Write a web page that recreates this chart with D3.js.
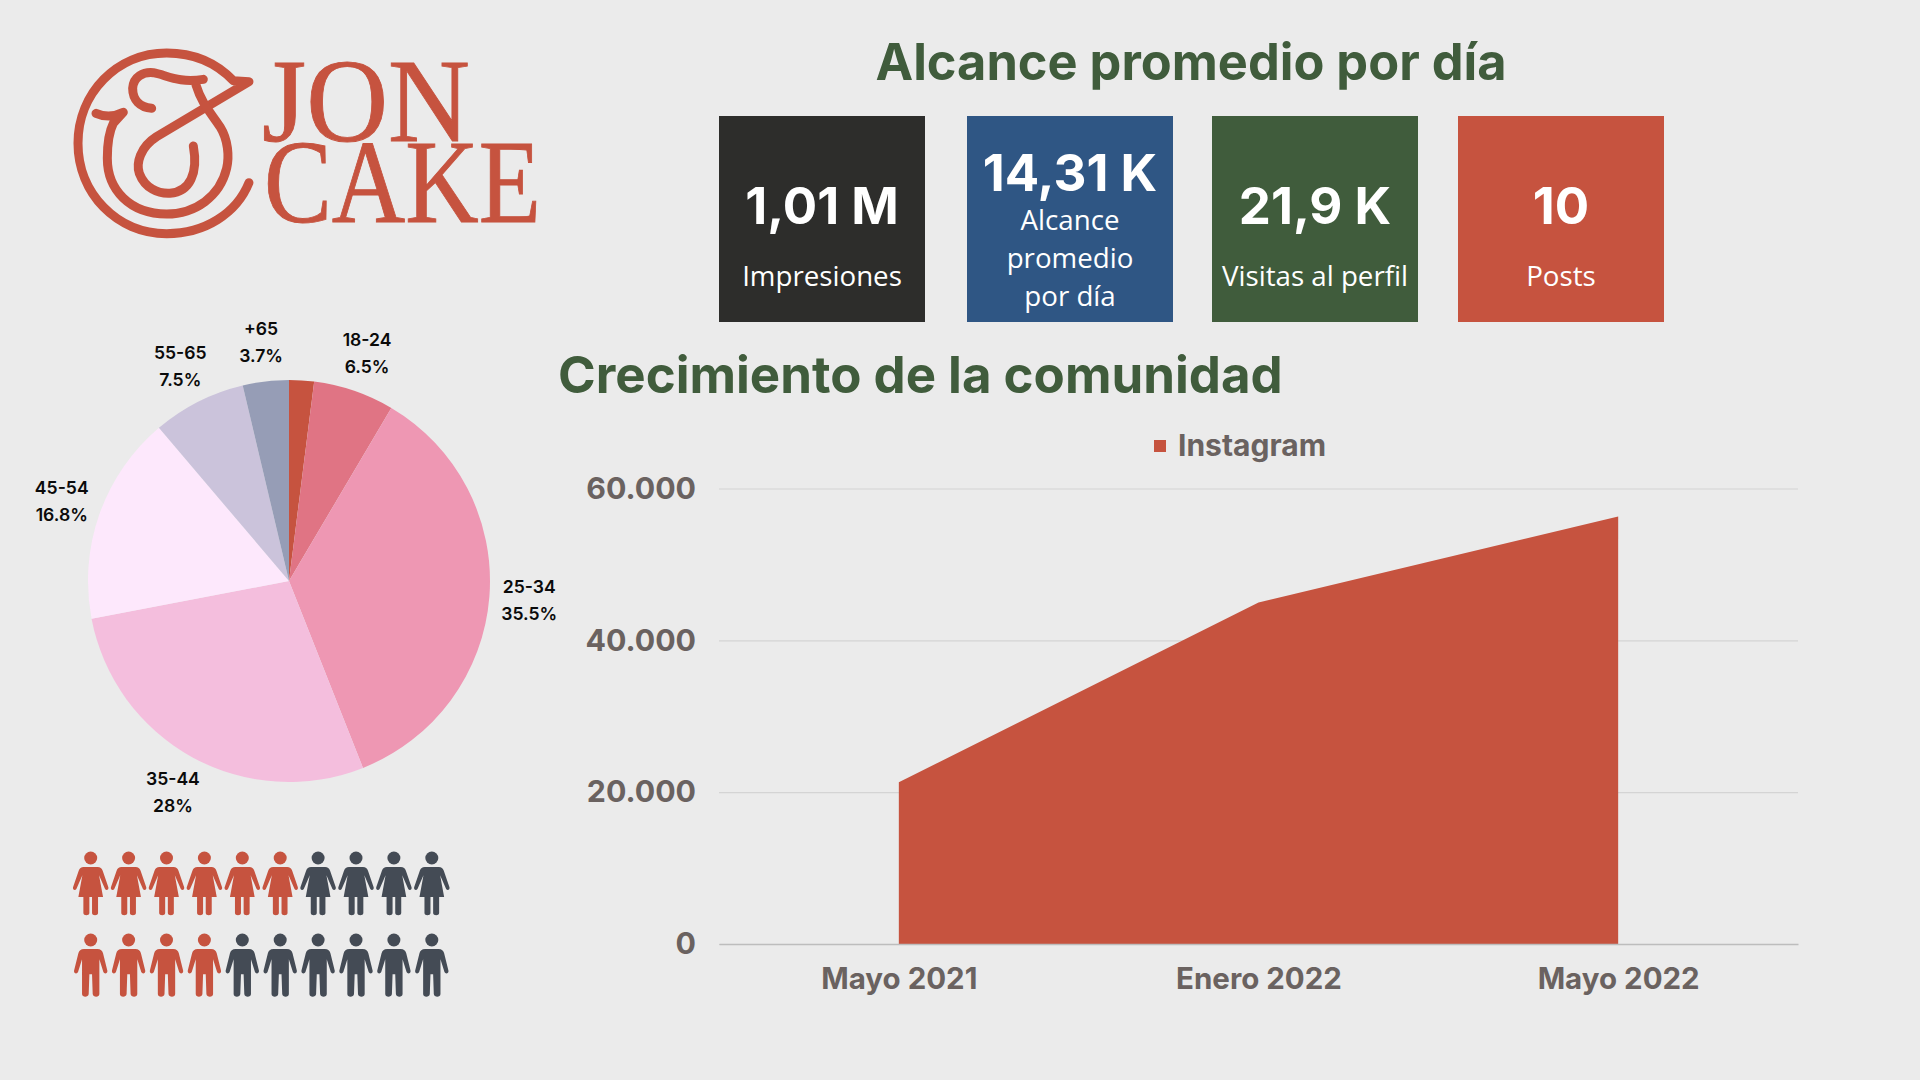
<!DOCTYPE html>
<html lang="es">
<head>
<meta charset="utf-8">
<title>Jon Cake</title>
<script src="https://cdn.jsdelivr.net/npm/d3@7"></script>
<style>
  html, body { margin: 0; padding: 0; background: #ebebeb; }
  svg { display: block; }
  .heading { font-family: Inter, sans-serif; font-weight: 700; fill: #405c3c; }
  .card-value { font-family: Inter, sans-serif; font-weight: 700; fill: #fff; text-anchor: middle; }
  .card-label { font-family: "Open Sans", sans-serif; fill: #fff; text-anchor: middle; }
  .pie-label { font-family: Inter, sans-serif; font-weight: 600; font-size: 17.6px; fill: #0a0a0a; text-anchor: middle; }
  .axis text, .legend-label { font-family: Inter, sans-serif; font-weight: 700; fill: #6a6260; }
  .logo-text { font-family: "Liberation Serif", serif; fill: #c6533f; stroke: #c6533f; stroke-width: 0.9; }
</style>
</head>
<body>
<svg id="chart" width="1920" height="1080"></svg>
<script>
// pie: age groups (first slice has no label in the picture)
const ageLabels = ['', '18-24', '25-34', '35-44', '45-54', '55-65', '+65'];
const ageShares = [2, 6.5, 35.5, 28, 16.8, 7.5, 3.7];
const ageShareText = ['', '6.5%', '35.5%', '28%', '16.8%', '7.5%', '3.7%'];
const ageColors = ['#c6533f', '#e07484', '#ee97b3', '#f4bedd', '#fde8fc', '#cbc3db', '#969db6'];

// area chart
const periods = ['Mayo 2021', 'Enero 2022', 'Mayo 2022'];
const instagram = [21300, 45000, 56300];
const yTicks = [0, 20000, 40000, 60000];

// kpi cards
const cardValues = ['1,01 M', '14,31 K', '21,9 K', '10'];
const cardLabels = [['Impresiones'], ['Alcance', 'promedio', 'por día'], ['Visitas al perfil'], ['Posts']];
const cardColors = ['#2d2d2b', '#2f5684', '#405c3c', '#c6533f'];

// pictograms: out of 10 per row
const genderRows = ['woman', 'man'];
const genderCounts = [6, 4];
const pictoSlots = d3.range(10);

const RED = '#c6533f';
const DARK = '#444b55';

const svg = d3.select('#chart');
svg.append('rect').attr('width', 1920).attr('height', 1080).attr('fill', '#ebebeb');

// ---- logo
function drawLogo() {
    const logo = svg.append('g').attr('transform', 'translate(50,30) scale(0.3333)')
        .attr('fill', 'none').attr('stroke', RED).attr('stroke-width', 27)
        .attr('stroke-linecap', 'round').attr('stroke-linejoin', 'round');
    // outer ring, then the diagonal and inner hook
    logo.append('path').attr('d', 'M597,458 C560,550 465,611 350,611 C200,611 84,490 84,340 C84,190 200,69 350,69 C440,69 505,105 550,152 L597,155 L320,320 C270,352 258,400 268,430 C285,475 325,492 360,490 C420,485 445,430 430,348');
    // the big S running from the top flag to the left serif
    logo.append('path').attr('d', 'M438,165 C455,220 480,245 510,290 C535,330 538,380 530,415 C510,500 435,552 350,552 C240,552 172,480 172,385 C172,340 180,300 190,280 L220,247 C190,262 165,262 138,250');
    // top flag with the small hook
    logo.append('path').attr('d', 'M305,235 C270,232 248,210 248,175 C250,140 280,125 310,128 C350,135 385,160 460,148');
    const word = svg.append('text').attr('class', 'logo-text').attr('font-size', 118);
    word.append('tspan').attr('x', 262).attr('y', 141)
        .attr('textLength', 208).attr('lengthAdjust', 'spacingAndGlyphs').text('JON');
    word.append('tspan').attr('x', 264).attr('y', 222)
        .attr('textLength', 277).attr('lengthAdjust', 'spacingAndGlyphs').text('CAKE');
}

// ---- headings and cards
function drawCards() {
    svg.append('text').attr('class', 'heading').attr('x', 1191).attr('y', 80)
        .attr('text-anchor', 'middle').attr('font-size', 50.5).text('Alcance promedio por día');
    svg.append('text').attr('class', 'heading').attr('x', 558).attr('y', 393)
        .attr('font-size', 51).text('Crecimiento de la comunidad');

    // the cards are not quite evenly spaced in the picture
    const cardLefts = [719, 967, 1212, 1458];
    const w = 206;
    const cards = svg.selectAll('.card').data(cardValues).enter().append('g').attr('class', 'card')
        .attr('transform', (d, i) => `translate(${cardLefts[i]},116)`);
    cards.append('rect').attr('width', w).attr('height', 206).attr('fill', (d, i) => cardColors[i]);
    cards.append('text').attr('class', 'card-value').attr('x', w / 2)
        .attr('y', (d, i) => cardLabels[i].length > 1 ? 75 : 108)
        .attr('font-size', 51).text(d => d);
    cards.each(function (d, i) {
        const lines = cardLabels[i];
        d3.select(this).selectAll('.card-label').data(lines).enter().append('text')
            .attr('class', 'card-label').attr('x', w / 2)
            .attr('y', (l, j) => lines.length > 1 ? 114 + j * 38 : 170)
            .attr('font-size', 27.7).text(l => l);
    });
}

// ---- pie
function drawPie() {
    const cx = 289, cy = 581, radius = 201;
    const g = svg.append('g').attr('transform', `translate(${cx},${cy})`);
    const pie = d3.pie().sort(null).value(d => d);
    const arc = d3.arc().innerRadius(0).outerRadius(radius);
    const labelArc = d3.arc().innerRadius(241).outerRadius(241);
    const arcs = pie(ageShares);

    g.selectAll('.slice').data(arcs).enter().append('path').attr('class', 'slice')
        .attr('d', arc).attr('fill', (d, i) => ageColors[i]);

    const labels = g.selectAll('.pie-label-group').data(arcs).enter().append('g')
        .attr('class', 'pie-label-group')
        .attr('transform', d => `translate(${labelArc.centroid(d)})`);
    labels.append('text').attr('class', 'pie-label').attr('y', -7).text((d, i) => ageLabels[i]);
    labels.append('text').attr('class', 'pie-label').attr('y', 20).text((d, i) => ageShareText[i]);
}

// ---- area
function drawArea() {
    const x = d3.scalePoint().domain(periods).range([719, 1798]).padding(0.5);
    const y = d3.scaleLinear().domain([0, 60000]).range([944, 488.5]);
    const fmt = d3.formatLocale({ decimal: ',', thousands: '.', grouping: [3], currency: ['', ''] }).format(',');

    const yAxis = svg.append('g').attr('class', 'axis').attr('transform', 'translate(719,0)')
        .call(d3.axisLeft(y).tickValues(yTicks).tickFormat(fmt).tickSize(-1079).tickPadding(23));
    yAxis.select('.domain').remove();
    yAxis.selectAll('line').attr('stroke', '#d4d4d4').attr('stroke-width', 1.2);
    yAxis.selectAll('text').attr('font-size', 30.3);

    const area = d3.area().x((d, i) => x(periods[i])).y0(y(0)).y1(d => y(d)).curve(d3.curveLinear);
    svg.append('path').datum(instagram).attr('fill', RED).attr('d', area);

    const xAxis = svg.append('g').attr('class', 'axis').attr('transform', 'translate(0,944)')
        .call(d3.axisBottom(x).tickSize(0).tickPadding(24));
    xAxis.select('.domain').attr('stroke', '#bdbdbd').attr('stroke-width', 1.4);
    xAxis.selectAll('text').attr('font-size', 29.5);

    svg.append('rect').attr('x', 1154).attr('y', 440).attr('width', 12).attr('height', 12).attr('fill', RED);
    svg.append('text').attr('class', 'legend-label').attr('x', 1178).attr('y', 456)
        .attr('font-size', 30).text('Instagram');
}

// ---- pictograms
const womanPath = 'M-21,27 L21,27 C29,27 33,31 36,38 L53,88 C55,95 47,99 43,93 L25,52 L37,117 L22,117 L22,165 C22,174 4,174 4,165 L4,117 L-4,117 L-4,165 C-4,174 -22,174 -22,165 L-22,117 L-37,117 L-25,52 L-43,93 C-47,99 -55,95 -53,88 L-36,38 C-33,31 -29,27 -21,27 Z';
const manPath = 'M-20,27 L20,27 C30,27 35,32 37,40 L50,92 C51,101 41,103 38,96 L26,58 L26,162 C26,173 7,173 6,162 L4,103 L-4,103 L-6,162 C-7,173 -26,173 -26,162 L-26,58 L-38,96 C-41,103 -51,101 -50,92 L-37,40 C-35,32 -30,27 -20,27 Z';

function drawPeople() {
    const x = d3.scalePoint().domain(pictoSlots).range([90.7, 431.8]);
    const y = d3.scalePoint().domain(genderRows).range([858, 940]);
    genderRows.forEach((row, r) => {
        const g = svg.append('g').attr('transform', `translate(0,${y(row)})`);
        const figs = g.selectAll('g').data(pictoSlots).enter().append('g')
            .attr('transform', d => `translate(${x(d)},0) scale(0.3333)`)
            .attr('fill', d => d < genderCounts[r] ? RED : DARK);
        figs.append('circle').attr('r', 19.5);
        figs.append('path').attr('d', row === 'woman' ? womanPath : manPath);
    });
}

drawLogo();
drawCards();
drawPie();
drawArea();
drawPeople();
</script>
</body>
</html>
